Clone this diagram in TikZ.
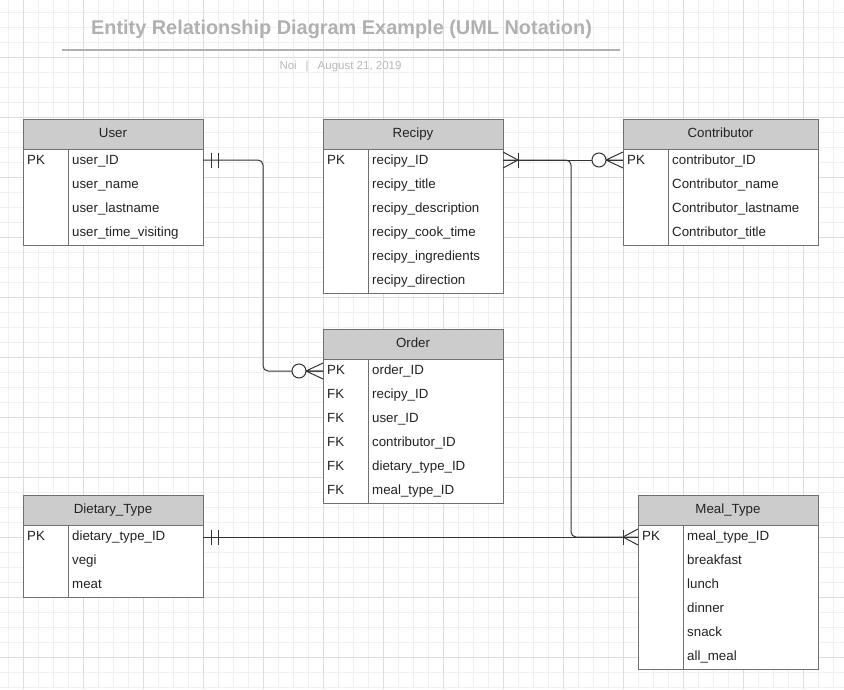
\documentclass[tikz,border=0pt]{standalone}
\usepackage{fontspec}
\setmainfont{Liberation Sans}
\definecolor{gridminor}{HTML}{F0F0F0}
\definecolor{gridmajor}{HTML}{DDDDDD}
\definecolor{hdr}{HTML}{CCCCCC}
\definecolor{bord}{HTML}{707070}
\definecolor{ttl}{HTML}{B0B0B0}
\definecolor{sub}{HTML}{B8B8B8}
\definecolor{conn}{HTML}{333333}
\definecolor{txt}{HTML}{222222}
\tikzset{
  hdrbox/.style={draw=bord, fill=hdr, line width=1pt, anchor=north west, inner sep=0pt, outer sep=0pt},
  bodybox/.style={draw=bord, fill=white, line width=1pt, anchor=north west, inner sep=0pt, outer sep=0pt},
  celltext/.style={anchor=base west, inner sep=0pt, text=txt, font=\fontsize{13.3}{16}\selectfont},
  hdrtext/.style={anchor=base, inner sep=0pt, text=txt, font=\fontsize{13.3}{16}\selectfont},
  conn/.style={draw=conn, line width=1pt},
  pics/crowzero/.style={code={
    \draw[conn] (-17,0) -- (0,8) (-17,0) -- (0,-8) (-17,0) -- (0,0);
    \draw[conn, fill=white] (-24,0) circle (7);}},
  pics/crowone/.style={code={
    \draw[conn] (-15,0) -- (0,8) (-15,0) -- (0,-8);
    \draw[conn] (-15,-7.5) -- (-15,7.5);}},
  pics/onlyone/.style={code={
    \draw[conn] (-8,-7.5) -- (-8,7.5) (-15,-7.5) -- (-15,7.5);}},
}
% #1 name #2 x #3 y #4 width #5 divider offset #6 nrows #7 title #8 rows
\newcommand{\erEntity}[8]{%
  \node[hdrbox, minimum width=#4pt, minimum height=30pt] (#1-h) at (#2,#3) {};
  \node[hdrtext] (#1-title) at ({#2+#4/2},{#3+18.5}) {#7};
  \node[bodybox, minimum width=#4pt, minimum height={#6*24pt}] (#1) at (#2,{#3+30}) {};
  \draw[draw=bord, line width=1pt] ({#2+#5},{#3+30}) -- ({#2+#5},{#3+30+24*#6});
  \foreach \k/\t [count=\i from 0] in {#8} {
    \node[celltext] (#1-k\i) at ({#2+4},{#3+45+24*\i}) {\k};
    \node[celltext] (#1-t\i) at ({#2+#5+4},{#3+45+24*\i}) {\t};
  }%
}
\begin{document}
\begin{tikzpicture}[x=1pt,y=-1pt]
\useasboundingbox (0,0) rectangle (844,689);
% grid
\foreach \gx in {8,23,...,848} \draw[gridminor, line width=1pt] (\gx,0) -- (\gx,689);
\foreach \gy in {12,27,...,689} \draw[gridminor, line width=1pt] (0,\gy) -- (844,\gy);
\foreach \gx in {23,83,...,844} \draw[gridmajor, line width=1pt] (\gx,0) -- (\gx,689);
\foreach \gy in {57,117,...,689} \draw[gridmajor, line width=1pt] (0,\gy) -- (844,\gy);
% title
\node[inner sep=0pt, text=ttl, font=\bfseries\fontsize{19.9}{23}\selectfont] (title) at (341.5,29) {Entity Relationship Diagram Example (UML Notation)};
\draw[ttl, line width=2pt] (62,49.5) -- (620,49.5);
\node[inner sep=0pt, text=sub, font=\fontsize{11.5}{13}\selectfont] (subtitle) at (340.5,67) {Noi\hspace{9pt}|\hspace{9pt}August 21, 2019};
% entities
\erEntity{user}{23}{119}{180}{45}{4}{User}{PK/user\_ID, /user\_name, /user\_lastname, /user\_time\_visiting}
\erEntity{recipy}{323}{119}{180}{45}{6}{Recipy}{PK/recipy\_ID, /recipy\_title, /recipy\_description, /recipy\_cook\_time, /recipy\_ingredients, /recipy\_direction}
\erEntity{contributor}{623}{119}{195}{45}{4}{Contributor}{PK/contributor\_ID, /Contributor\_name, /Contributor\_lastname, /Contributor\_title}
\erEntity{order}{323}{329}{180}{45}{6}{Order}{PK/order\_ID, FK/recipy\_ID, FK/user\_ID, FK/contributor\_ID, FK/dietary\_type\_ID, FK/meal\_type\_ID}
\erEntity{dietary}{23}{495}{180}{45}{3}{Dietary\_Type}{PK/dietary\_type\_ID, /vegi, /meat}
\erEntity{meal}{638}{495}{180}{45}{6}{Meal\_Type}{PK/meal\_type\_ID, /breakfast, /lunch, /dinner, /snack, /all\_meal}
% connector end points
\coordinate (uo-a) at ([yshift=-11pt]user.north east);
\coordinate (uo-b) at ([yshift=-12pt]order.north west);
\coordinate (rc-a) at ([yshift=-11pt]recipy.north east);
\coordinate (rc-b) at ([yshift=-11pt]contributor.north west);
\coordinate (rm-b) at ([yshift=-12pt]meal.north west);
\coordinate (dm-a) at ([yshift=-12pt]dietary.north east);
% connectors
\draw[conn, rounded corners=5pt] (uo-a) -| ([xshift=-60pt]uo-b) -- (uo-b);
\draw[conn] (rc-a) -- (rc-b);
\draw[conn, rounded corners=5pt] (rc-a) -| ([xshift=-67pt]rm-b) -- (rm-b);
\draw[conn] (dm-a) -- (rm-b);
% ends
\pic[xscale=-1] at (uo-a) {onlyone};
\pic at (uo-b) {crowzero};
\pic[xscale=-1] at (rc-a) {crowone};
\pic at (rc-b) {crowzero};
\pic at (rm-b) {crowone};
\pic[xscale=-1] at (dm-a) {onlyone};
\end{tikzpicture}
\end{document}
